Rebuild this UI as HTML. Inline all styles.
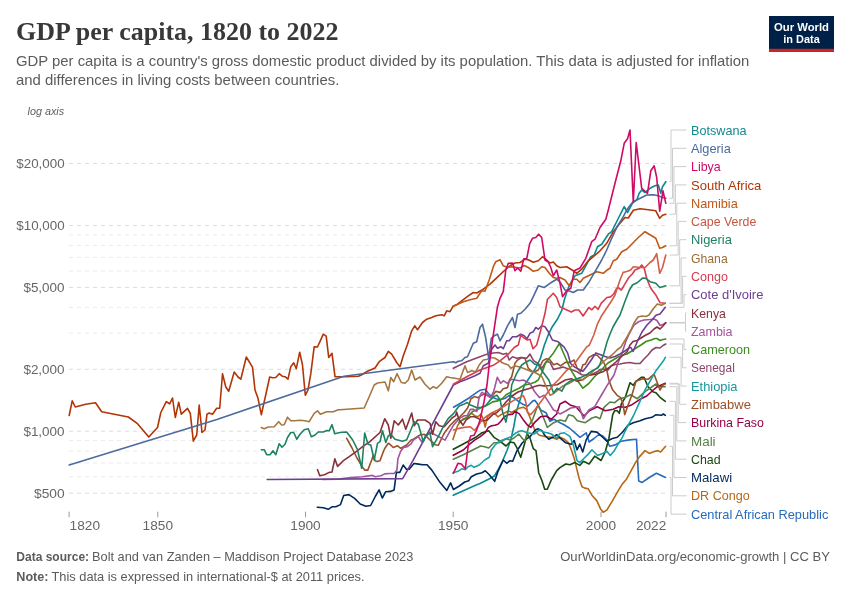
<!DOCTYPE html><html><head><meta charset="utf-8"><title>GDP per capita, 1820 to 2022</title><style>html,body{margin:0;padding:0;background:#fff;}svg{display:block;}text{font-family:"Liberation Sans",Arial,sans-serif;}</style></head><body>
<svg width="850" height="600" viewBox="0 0 850 600">
<rect width="850" height="600" fill="#fff"/>
<text x="16" y="39.7" font-family="Liberation Serif, serif" style="font-family:'Liberation Serif',serif" font-size="24.5" font-weight="bold" fill="#383838" textLength="322.5" lengthAdjust="spacingAndGlyphs">GDP per capita, 1820 to 2022</text>
<text x="16" y="66.3" font-size="14.6" fill="#5b5b5b" textLength="733.3" lengthAdjust="spacingAndGlyphs">GDP per capita is a country's gross domestic product divided by its population. This data is adjusted for inflation</text>
<text x="16" y="84.5" font-size="14.6" fill="#5b5b5b" textLength="323.3" lengthAdjust="spacingAndGlyphs">and differences in living costs between countries.</text>
<rect x="769" y="16" width="65" height="36" fill="#002147"/><rect x="769" y="48.8" width="65" height="3.2" fill="#ce261e"/>
<text x="801.5" y="30.6" font-size="11.6" font-weight="bold" fill="#fff" text-anchor="middle" textLength="55" lengthAdjust="spacingAndGlyphs">Our World</text>
<text x="801.5" y="42.8" font-size="11.6" font-weight="bold" fill="#fff" text-anchor="middle" textLength="36.5" lengthAdjust="spacingAndGlyphs">in Data</text>
<text x="27.5" y="114.7" font-size="11.4" font-style="italic" fill="#5e5e5e" textLength="36.6" lengthAdjust="spacingAndGlyphs">log axis</text>
<line x1="69" y1="493.12" x2="666" y2="493.12" stroke="#dcdcdc" stroke-width="1" stroke-dasharray="4 4"/>
<line x1="69" y1="476.83" x2="666" y2="476.83" stroke="#ebebeb" stroke-width="1" stroke-dasharray="4 4"/>
<line x1="69" y1="463.06" x2="666" y2="463.06" stroke="#ebebeb" stroke-width="1" stroke-dasharray="4 4"/>
<line x1="69" y1="451.13" x2="666" y2="451.13" stroke="#ebebeb" stroke-width="1" stroke-dasharray="4 4"/>
<line x1="69" y1="440.61" x2="666" y2="440.61" stroke="#ebebeb" stroke-width="1" stroke-dasharray="4 4"/>
<line x1="69" y1="431.20" x2="666" y2="431.20" stroke="#dcdcdc" stroke-width="1" stroke-dasharray="4 4"/>
<line x1="69" y1="369.28" x2="666" y2="369.28" stroke="#dcdcdc" stroke-width="1" stroke-dasharray="4 4"/>
<line x1="69" y1="333.06" x2="666" y2="333.06" stroke="#ebebeb" stroke-width="1" stroke-dasharray="4 4"/>
<line x1="69" y1="307.36" x2="666" y2="307.36" stroke="#ebebeb" stroke-width="1" stroke-dasharray="4 4"/>
<line x1="69" y1="287.42" x2="666" y2="287.42" stroke="#dcdcdc" stroke-width="1" stroke-dasharray="4 4"/>
<line x1="69" y1="271.13" x2="666" y2="271.13" stroke="#ebebeb" stroke-width="1" stroke-dasharray="4 4"/>
<line x1="69" y1="257.36" x2="666" y2="257.36" stroke="#ebebeb" stroke-width="1" stroke-dasharray="4 4"/>
<line x1="69" y1="245.43" x2="666" y2="245.43" stroke="#ebebeb" stroke-width="1" stroke-dasharray="4 4"/>
<line x1="69" y1="234.91" x2="666" y2="234.91" stroke="#ebebeb" stroke-width="1" stroke-dasharray="4 4"/>
<line x1="69" y1="225.50" x2="666" y2="225.50" stroke="#dcdcdc" stroke-width="1" stroke-dasharray="4 4"/>
<line x1="69" y1="163.58" x2="666" y2="163.58" stroke="#dcdcdc" stroke-width="1" stroke-dasharray="4 4"/>
<text x="64.6" y="168.1" font-size="12.6" fill="#666" text-anchor="end" textLength="48.3" lengthAdjust="spacingAndGlyphs">$20,000</text>
<text x="64.6" y="230.0" font-size="12.6" fill="#666" text-anchor="end" textLength="48.3" lengthAdjust="spacingAndGlyphs">$10,000</text>
<text x="64.6" y="291.9" font-size="12.6" fill="#666" text-anchor="end" textLength="41.2" lengthAdjust="spacingAndGlyphs">$5,000</text>
<text x="64.6" y="373.8" font-size="12.6" fill="#666" text-anchor="end" textLength="41.2" lengthAdjust="spacingAndGlyphs">$2,000</text>
<text x="64.6" y="435.7" font-size="12.6" fill="#666" text-anchor="end" textLength="41.2" lengthAdjust="spacingAndGlyphs">$1,000</text>
<text x="64.6" y="497.6" font-size="12.6" fill="#666" text-anchor="end" textLength="30.6" lengthAdjust="spacingAndGlyphs">$500</text>
<line x1="69.1" y1="511.7" x2="69.1" y2="517.2" stroke="#999" stroke-width="1"/>
<text x="69.6" y="530.3" font-size="12.6" fill="#666" text-anchor="start" textLength="30.4" lengthAdjust="spacingAndGlyphs">1820</text>
<line x1="157.8" y1="511.7" x2="157.8" y2="517.2" stroke="#999" stroke-width="1"/>
<text x="157.8" y="530.3" font-size="12.6" fill="#666" text-anchor="middle" textLength="30.4" lengthAdjust="spacingAndGlyphs">1850</text>
<line x1="305.5" y1="511.7" x2="305.5" y2="517.2" stroke="#999" stroke-width="1"/>
<text x="305.5" y="530.3" font-size="12.6" fill="#666" text-anchor="middle" textLength="30.4" lengthAdjust="spacingAndGlyphs">1900</text>
<line x1="453.2" y1="511.7" x2="453.2" y2="517.2" stroke="#999" stroke-width="1"/>
<text x="453.2" y="530.3" font-size="12.6" fill="#666" text-anchor="middle" textLength="30.4" lengthAdjust="spacingAndGlyphs">1950</text>
<line x1="601.0" y1="511.7" x2="601.0" y2="517.2" stroke="#999" stroke-width="1"/>
<text x="601.0" y="530.3" font-size="12.6" fill="#666" text-anchor="middle" textLength="30.4" lengthAdjust="spacingAndGlyphs">2000</text>
<line x1="666.0" y1="511.7" x2="666.0" y2="517.2" stroke="#999" stroke-width="1"/>
<text x="666.3" y="530.3" font-size="12.6" fill="#666" text-anchor="end" textLength="30.4" lengthAdjust="spacingAndGlyphs">2022</text>
<polyline points="453.3,495.3 463.3,490.7 476.7,484.7 480.0,483.5 489.0,479.0 494.3,476.0 498.0,470.0 502.5,461.0 507.0,450.5 510.8,440.0 513.8,426.5 516.8,410.0 520.3,399.0 524.3,385.3 529.7,377.3 535.0,369.3 540.3,358.7 544.3,345.3 548.3,334.7 552.3,326.7 557.7,318.7 561.7,310.7 564.3,300.0 567.5,290.0 570.0,284.2 575.0,275.8 581.7,273.3 590.8,256.7 594.2,255.0 597.5,246.7 601.7,244.2 608.3,234.2 611.7,231.7 617.5,220.0 624.2,206.7 627.5,212.5 633.3,201.7 636.7,200.0 639.2,193.3 641.7,190.0 645.0,192.5 650.0,188.3 655.0,185.8 658.3,185.0 660.8,193.3 662.5,186.7 665.8,181.7" fill="none" stroke="#0A8A8F" stroke-width="1.6" stroke-linejoin="round" stroke-linecap="round"/>
<polyline points="69.2,415.5 72.2,400.8 75.3,407.0 85.8,404.3 95.5,402.8 101.7,411.7 128.3,417.0 137.5,423.7 148.8,437.0 157.5,427.5 160.8,412.5 166.3,401.7 169.7,403.8 172.5,398.0 175.3,417.5 178.7,402.2 181.3,414.2 187.5,408.3 190.3,413.3 193.3,441.2 196.7,435.0 199.2,405.0 202.0,432.5 205.0,430.0 207.0,414.2 209.2,413.0 212.5,414.2 216.7,408.3 219.7,408.3 222.5,373.7 225.8,387.0 228.7,391.3 234.2,372.0 238.0,377.0 240.8,379.2 246.3,357.0 252.5,367.2 255.0,390.0 258.0,398.3 261.3,414.7 265.0,398.3 269.7,377.0 272.5,377.8 275.8,377.5 279.2,373.7 282.5,376.3 285.0,376.7 288.0,379.2 290.8,366.7 293.7,362.8 296.3,368.7 299.7,352.2 302.5,365.0 305.3,395.3 308.0,390.0 310.8,373.7 314.2,346.7 317.5,347.0 323.3,334.2 326.2,336.2 328.7,357.5 332.0,353.3 335.0,376.7 340.0,376.7 346.7,376.7 358.3,376.3 360.8,375.3 367.5,371.3 375.0,368.0 379.2,361.7 385.0,357.5 388.3,351.3 391.7,354.2 396.7,362.5 400.0,366.7 403.3,355.8 407.5,344.2 411.7,330.8 414.7,325.8 417.5,329.7 422.5,322.5 426.7,319.2 431.7,317.5 435.8,315.8 441.7,314.7 444.2,315.8 446.7,310.8 450.0,311.7 453.0,306.3 457.5,304.2 463.3,299.7 468.3,295.8 473.3,292.5 476.7,293.0 483.3,289.2 490.0,284.2 498.3,276.3 505.0,270.0 510.0,265.8 515.0,263.0 520.0,262.5 525.0,259.2 528.3,259.7 533.3,262.2 538.3,260.8 542.5,256.7 546.7,260.0 550.0,263.0 553.3,262.0 556.7,265.8 560.0,267.5 566.7,266.7 573.3,270.8 576.7,273.3 581.7,269.2 588.3,260.8 593.3,256.7 600.0,250.8 606.7,243.3 613.3,231.7 620.0,223.3 625.0,217.5 628.3,218.0 633.3,210.3 640.0,208.7 648.3,209.7 655.8,210.8 659.7,218.3 662.5,215.3 665.8,214.2" fill="none" stroke="#B13507" stroke-width="1.6" stroke-linejoin="round" stroke-linecap="round"/>
<polyline points="453.3,306.3 463.3,301.7 470.0,299.7 476.7,298.3 481.7,290.8 485.0,291.3 489.2,280.0 493.3,266.7 495.8,261.7 500.0,259.7 503.3,265.8 507.5,267.5 511.7,266.7 516.7,267.5 520.0,268.0 524.2,265.5 528.3,267.5 533.3,271.3 538.3,270.0 541.7,266.7 545.0,267.5 549.2,273.3 553.3,277.5 556.7,278.3 560.0,277.5 565.0,280.0 569.2,285.8 573.3,279.2 576.7,279.2 580.0,282.5 583.3,278.3 590.0,275.0 596.7,271.7 603.3,273.3 607.5,269.7 610.0,268.3 613.3,260.8 616.7,259.2 621.7,251.7 626.7,249.2 631.7,244.2 638.3,237.5 645.0,231.7 651.7,235.8 655.8,238.3 659.7,248.3 662.5,247.5 665.8,245.8" fill="none" stroke="#C05917" stroke-width="1.6" stroke-linejoin="round" stroke-linecap="round"/>
<polyline points="453.5,407.2 460.9,403.0 469.4,397.7 476.8,392.4 479.9,390.3 485.2,389.2 488.4,393.5 491.6,396.6 495.8,398.8 500.1,399.8 505.4,398.2 509.6,395.1 513.8,397.7 519.1,401.9 523.4,404.6 527.6,406.2 532.9,400.9 535.0,400.4 536.7,402.7 540.7,410.0 546.0,412.7 550.0,421.3 554.0,419.3 560.0,422.7 564.0,424.7 569.3,428.0 574.7,432.7 580.0,437.3 586.2,432.8 589.1,442.0 594.0,438.5 598.3,435.0 602.5,435.7 606.8,439.9 609.6,446.3 615.3,444.9 621.0,441.3 629.5,439.9 636.5,439.2 638.7,481.0 642.2,482.4 649.3,477.5 656.4,473.2 665.6,477.5" fill="none" stroke="#286BBB" stroke-width="1.6" stroke-linejoin="round" stroke-linecap="round"/>
<polyline points="452.9,439.5 457.7,425.2 463.0,418.9 466.2,417.8 471.5,413.1 474.6,415.7 477.8,416.8 481.0,414.1 483.5,420.0 485.2,427.0 487.4,416.8 491.6,413.1 494.8,413.6 497.9,416.8 501.1,414.6 505.4,412.5 508.5,410.9 511.7,412.5 514.9,410.4 519.1,408.3 523.4,407.2 526.5,409.4 529.7,416.8 532.9,425.2 535.3,431.3 539.3,435.3 546.0,436.7 551.3,437.3 556.7,439.3 560.0,437.1 564.3,439.2 568.5,442.8 571.3,449.8 574.2,458.3 576.3,466.9 579.1,478.2 582.0,486.7 584.8,488.1 588.3,488.8 591.9,495.2 596.9,500.9 600.4,508.7 603.2,512.2 606.8,510.1 612.4,500.9 618.1,490.9 622.4,483.9 626.6,478.9 630.9,471.1 635.1,463.3 639.4,456.9 645.0,450.6 649.3,453.4 655.0,451.3 657.8,450.6 660.6,452.0 665.6,446.3" fill="none" stroke="#B66716" stroke-width="1.6" stroke-linejoin="round" stroke-linecap="round"/>
<polyline points="317.3,507.2 323.5,507.8 328.2,509.3 332.0,506.8 335.8,506.8 340.5,504.6 343.7,495.5 348.9,494.6 354.6,498.4 360.2,504.0 365.9,506.3 370.6,505.5 375.3,496.5 379.1,489.9 382.3,498.0 385.6,491.8 390.4,491.4 394.1,489.9 396.4,472.4 399.8,472.4 403.2,465.0 406.4,469.2 409.2,469.2 413.9,463.5 418.6,464.1 422.4,464.8 427.1,464.8 431.8,470.1 439.3,481.4 446.8,490.4 450.6,482.9 453.4,489.5 459.3,486.0 464.7,482.0 468.7,480.7 471.3,476.7 476.7,474.0 482.0,472.7 485.3,470.7 489.3,474.7 494.7,481.3 498.0,471.3 503.3,460.0 506.7,463.3 510.0,460.7 512.7,461.3 516.7,451.3 522.0,443.3 526.0,439.3 530.0,436.7 535.3,430.0 538.0,428.7 542.0,430.7 544.7,435.3 548.7,439.3 552.7,437.3 556.7,434.7 560.0,437.8 565.7,442.8 571.3,444.2 574.2,440.6 577.0,449.8 579.8,444.2 582.7,452.0 586.2,439.9 591.2,431.4 596.9,432.1 601.1,435.7 606.8,441.3 612.4,438.5 617.3,437.3 622.7,432.0 628.0,425.3 633.3,422.7 640.0,420.7 645.3,418.7 652.0,417.3 656.0,414.7 661.3,415.3 663.3,414.0 665.3,415.3" fill="none" stroke="#00295B" stroke-width="1.6" stroke-linejoin="round" stroke-linecap="round"/>
<polyline points="453.3,449.3 463.3,444.0 476.7,436.7 482.0,432.7 488.7,430.7 494.0,437.3 499.3,440.7 506.0,446.0 510.0,442.0 514.0,442.7 516.7,447.3 520.7,457.3 524.7,443.3 527.3,434.0 530.0,438.0 533.3,448.7 536.0,450.7 538.7,472.7 542.0,480.7 544.7,489.3 547.3,489.3 551.3,480.0 556.7,470.7 560.0,467.6 565.7,464.0 569.9,464.7 574.9,462.6 579.8,465.4 583.4,461.2 589.1,464.0 594.7,456.2 601.1,460.5 605.4,451.3 608.9,438.5 612.7,414.7 614.7,410.7 617.3,410.7 619.3,413.3 621.3,404.0 625.3,397.3 630.0,382.7 633.3,385.3 636.0,381.3 641.3,377.3 644.0,377.3 648.0,386.7 653.3,392.0 656.0,392.7 660.0,397.3 665.3,401.3" fill="none" stroke="#18470F" stroke-width="1.6" stroke-linejoin="round" stroke-linecap="round"/>
<polyline points="453.3,459.3 463.3,454.7 472.7,450.0 480.7,446.0 484.7,446.7 488.7,448.0 494.0,442.7 499.3,442.7 506.0,438.7 510.0,440.0 514.0,438.0 518.7,434.0 522.0,438.0 524.7,441.3 526.7,434.7 528.7,426.0 532.7,419.3 538.0,404.7 542.0,414.0 547.3,427.3 552.7,423.3 560.0,420.0 565.3,421.3 568.7,414.7 573.3,416.0 577.3,420.7 585.3,422.7 592.0,418.0 596.0,416.7 600.0,418.7 604.0,407.3 610.0,402.0 614.7,402.7 618.7,399.3 625.3,397.3 630.7,394.7 637.3,398.7 645.3,391.3 656.0,384.0 660.0,386.7 665.3,386.7" fill="none" stroke="#578145" stroke-width="1.6" stroke-linejoin="round" stroke-linecap="round"/>
<polyline points="453.3,455.3 463.3,450.0 469.4,444.3 474.6,440.1 479.9,436.9 485.2,432.6 488.4,427.4 491.6,425.8 494.8,425.2 497.9,424.2 501.1,421.0 504.3,416.8 508.5,414.6 512.8,414.1 514.9,411.5 519.1,413.6 523.4,419.9 527.6,425.2 530.8,427.4 535.0,422.1 540.7,416.7 546.0,416.0 551.3,419.3 556.7,414.0 560.0,404.0 565.3,401.3 570.7,405.3 576.0,406.7 584.0,416.0 589.3,410.7 597.3,406.7 605.3,410.7 613.3,409.3 618.7,406.7 625.3,407.3 632.0,404.7 640.0,399.3 646.7,396.0 653.3,390.0 657.3,386.7 665.3,383.3" fill="none" stroke="#970046" stroke-width="1.6" stroke-linejoin="round" stroke-linecap="round"/>
<polyline points="346.7,438.3 352.0,448.0 357.0,458.0 363.3,468.3 364.9,470.1 367.8,470.1 371.7,460.0 373.4,455.0 375.0,460.8 377.2,461.6 380.0,460.7 383.3,451.7 384.7,448.5 388.3,443.3 389.4,443.8 393.3,447.5 397.5,445.8 400.8,448.3 406.7,445.0 411.1,440.0 413.3,439.2 420.0,435.0 424.2,434.2 430.0,440.0 435.0,444.7 438.3,445.3 443.3,435.0 445.0,432.1 450.3,425.2 455.6,419.9 459.8,416.8 464.1,412.5 467.8,407.8 470.9,398.8 474.6,396.6 477.8,397.7 481.0,395.6 485.2,393.5 489.5,396.6 492.6,395.6 495.8,391.4 500.1,392.4 503.2,388.7 507.5,387.6 509.5,380.0 511.7,376.7 515.0,363.3 517.5,360.0 521.7,357.5 525.0,358.3 528.3,368.3 532.5,371.7 534.7,371.8 538.2,370.0 542.9,360.6 546.5,358.8 550.0,360.0 553.5,364.7 557.1,363.5 560.6,365.9 565.3,362.4 570.0,362.4 574.1,360.0 577.1,368.2 580.6,371.8 582.9,364.7 585.3,364.1 588.8,357.6 593.5,354.7 597.1,355.3 600.6,358.8 603.0,361.0 605.0,365.0 607.0,371.0 608.8,380.0 612.4,389.4 617.1,395.3 620.6,397.6 622.9,403.5 624.7,414.7 628.0,405.3 632.0,394.7 636.0,381.3 642.7,378.7 648.0,379.3 654.0,374.0 657.3,382.7 660.0,390.0 662.7,385.3 665.3,384.0" fill="none" stroke="#9A5129" stroke-width="1.6" stroke-linejoin="round" stroke-linecap="round"/>
<polyline points="453.3,472.7 458.0,471.3 462.0,468.7 465.3,469.7 468.0,466.7 471.3,465.3 474.0,467.3 479.3,465.0 484.7,460.0 489.3,457.3 491.3,450.0 495.3,444.7 499.3,441.3 506.0,438.7 511.3,436.7 515.3,433.3 519.3,431.3 522.0,430.7 527.3,432.7 534.0,434.0 539.3,430.0 543.3,432.0 547.3,432.7 551.3,434.0 556.7,438.0 560.0,433.5 564.3,432.8 569.9,436.4 573.5,445.6 577.0,460.5 579.8,462.6 584.1,458.3 588.3,454.1 591.9,449.8 597.6,455.5 602.5,453.4 606.8,451.3 610.3,455.5 613.9,451.3 618.1,444.2 622.4,437.1 626.7,428.0 633.3,416.0 640.0,401.3 645.3,389.3 650.7,380.0 656.0,370.7 664.0,360.0 665.3,357.3" fill="none" stroke="#1AA0A5" stroke-width="1.6" stroke-linejoin="round" stroke-linecap="round"/>
<polyline points="453.3,368.3 466.7,361.7 480.0,356.7 486.7,354.2 493.3,353.0 498.3,352.5 503.3,354.2 506.7,353.3 509.2,360.0 512.5,356.7 516.7,358.3 520.8,357.5 526.7,358.3 530.0,354.1 533.5,360.6 538.2,363.5 541.8,368.2 546.5,361.2 550.0,362.4 553.5,369.4 558.2,368.2 562.9,367.1 566.5,368.2 571.2,369.4 577.1,371.8 581.8,374.7 586.5,375.3 592.4,374.1 598.2,371.2 600.0,369.5 604.0,369.0 608.0,370.0 611.0,366.0 615.0,364.5 620.0,364.0 625.0,363.0 630.0,362.5 635.0,363.5 640.0,363.5 644.0,359.0 648.0,355.0 652.0,350.0 656.0,347.5 660.0,348.0 663.0,345.5 665.8,344.0" fill="none" stroke="#8C4569" stroke-width="1.6" stroke-linejoin="round" stroke-linecap="round"/>
<polyline points="458.8,422.1 463.0,419.9 467.2,417.8 472.5,411.5 477.8,409.4 482.1,407.2 487.4,405.1 492.6,401.9 497.9,400.9 502.2,398.8 506.4,394.5 510.6,392.4 514.9,390.3 519.1,388.2 524.4,385.0 530.0,384.0 535.3,382.0 538.2,380.0 541.8,372.9 545.3,363.5 548.8,358.8 553.5,352.9 559.4,343.5 562.9,351.8 566.5,360.0 571.2,370.6 577.1,380.0 582.9,388.2 588.8,383.5 594.7,376.5 600.0,372.0 604.0,367.0 608.0,363.0 613.0,360.0 618.0,357.0 623.0,355.0 627.0,354.0 631.0,351.5 636.0,348.0 641.0,345.0 646.0,341.5 651.0,340.0 655.0,338.5 657.0,338.5 660.0,340.5 663.0,339.5 665.8,339.0" fill="none" stroke="#3B8E1D" stroke-width="1.6" stroke-linejoin="round" stroke-linecap="round"/>
<polyline points="322.6,479.5 337.6,479.2 350.8,477.6 362.1,476.7 372.5,475.4 375.3,476.7 380.9,475.8 384.7,473.9 389.4,473.5 394.1,473.5 396.9,470.1 397.9,458.8 400.7,451.3 403.5,447.5 407.3,446.6 411.1,443.8 413.3,440.0 418.3,436.7 421.7,441.7 430.0,432.0 445.0,440.1 449.2,432.6 453.5,425.2 458.8,418.9 464.1,415.7 467.2,415.7 470.4,409.4 473.6,409.4 476.8,411.5 478.9,398.8 481.0,393.5 482.1,392.4 487.4,395.6 490.5,397.7 493.7,391.4 497.3,377.3 500.7,383.3 503.3,380.7 507.3,383.3 511.3,379.3 519.3,380.7 523.3,380.0 530.0,383.5 534.7,391.8 539.4,397.6 544.1,395.3 548.8,402.4 553.5,410.0 556.7,411.3 560.0,414.0 565.3,411.3 570.7,408.0 579.3,406.7 583.3,418.7 588.8,410.0 594.7,406.7 600.6,396.5 607.6,384.7 614.0,375.0 618.0,363.0 622.0,353.0 626.0,341.0 630.0,332.0 634.0,325.0 639.0,321.5 644.0,320.0 650.0,319.5 654.0,319.0 657.0,320.5 660.0,325.5 663.0,324.5 665.8,323.0" fill="none" stroke="#A2559C" stroke-width="1.6" stroke-linejoin="round" stroke-linecap="round"/>
<polyline points="317.5,469.7 319.8,475.8 324.5,474.8 329.2,472.4 332.0,472.0 334.8,458.8 337.6,466.4 343.3,460.7 348.9,456.9 356.5,451.3 364.0,445.6 369.6,441.9 380.0,432.5 384.7,418.7 388.3,425.0 390.8,438.3 394.2,420.8 398.3,425.0 402.5,419.2 405.8,429.2 411.7,413.0 414.2,425.8 417.5,420.0 425.0,420.0 430.0,423.3 432.5,434.2 435.8,421.7 439.2,425.8 444.2,426.7 452.0,418.0 455.6,415.7 456.6,412.0 458.8,418.9 463.0,425.2 466.2,419.9 470.4,416.8 474.6,416.8 478.9,418.9 483.1,421.0 487.4,419.9 492.6,414.6 496.9,412.5 500.1,409.4 506.0,402.0 512.0,396.0 518.0,392.0 524.0,390.0 530.0,388.2 534.7,386.5 539.4,385.3 544.1,385.9 550.0,385.5 557.1,384.7 565.3,380.0 571.2,378.8 577.1,381.2 582.9,379.4 588.8,375.3 595.9,374.1 602.9,371.8 610.0,367.0 616.0,362.0 622.0,356.0 627.0,352.0 630.0,345.0 633.0,341.5 637.0,340.5 641.0,338.0 645.0,335.5 650.0,333.0 654.0,329.0 657.0,327.0 660.0,329.0 663.0,326.0 665.8,322.5" fill="none" stroke="#883039" stroke-width="1.6" stroke-linejoin="round" stroke-linecap="round"/>
<polyline points="267.2,479.5 402.6,478.6 405.4,473.9 412.9,460.7 422.4,442.8 453.3,385.0 460.0,381.7 466.7,379.2 475.0,375.8 480.0,373.3 483.3,365.8 488.3,363.3 491.7,349.2 495.0,345.0 497.5,348.3 500.8,346.7 503.3,348.7 506.7,340.8 509.2,340.8 512.5,336.7 516.7,336.7 520.8,334.2 524.2,335.8 527.0,338.7 530.0,333.3 533.3,331.7 535.8,327.5 538.3,329.2 541.7,325.8 545.0,326.7 548.3,331.7 552.4,340.0 558.2,341.8 564.1,347.1 567.6,352.9 570.6,363.5 574.7,367.1 579.4,369.4 582.9,371.2 585.3,368.2 591.2,360.0 595.9,352.9 600.0,354.5 605.0,356.5 610.0,358.0 615.0,356.5 620.0,354.0 625.0,351.0 629.0,348.0 631.0,347.5 633.0,351.5 635.0,347.0 638.0,340.0 642.0,332.0 647.0,325.0 652.0,320.0 656.0,315.3 660.0,314.0 665.3,307.3" fill="none" stroke="#6D3E91" stroke-width="1.6" stroke-linejoin="round" stroke-linecap="round"/>
<polyline points="453.3,384.2 466.7,376.7 480.0,370.0 493.3,365.3 500.0,360.8 508.3,354.2 514.2,347.5 518.3,345.0 520.8,335.0 524.2,338.3 527.5,340.0 530.0,339.2 533.0,348.7 536.7,345.0 540.8,330.0 545.0,313.3 547.5,299.2 550.0,296.7 553.3,293.3 556.7,297.5 560.0,306.7 565.3,309.3 571.3,312.0 575.0,310.0 578.8,310.0 583.1,316.0 588.8,307.5 591.9,309.8 595.0,306.3 598.1,309.4 601.3,303.1 606.9,297.5 610.6,296.9 613.8,293.8 616.3,288.8 618.1,287.5 621.3,290.0 625.0,283.8 628.8,277.5 632.5,273.8 635.0,270.0 639.2,268.3 641.7,265.0 644.2,268.3 646.7,278.3 650.0,286.7 652.0,290.0 656.0,295.3 660.0,302.7 665.3,303.3" fill="none" stroke="#D73C50" stroke-width="1.6" stroke-linejoin="round" stroke-linecap="round"/>
<polyline points="261.3,427.5 264.2,428.7 268.3,427.0 274.2,426.7 278.7,421.7 281.7,425.0 284.2,424.7 287.5,417.2 290.8,420.8 295.0,420.8 300.0,420.3 305.0,420.8 309.2,421.7 314.2,413.3 317.5,410.8 320.3,414.2 326.7,411.7 333.3,411.7 338.3,409.7 340.0,409.7 364.2,408.0 369.2,396.7 374.2,385.0 377.5,383.0 385.0,382.0 388.3,390.8 390.8,377.5 393.7,381.7 397.0,373.7 401.3,382.5 405.0,383.3 408.3,380.0 411.7,370.0 415.0,380.0 420.0,377.0 425.0,384.2 430.0,389.2 433.3,386.7 436.7,388.3 441.7,383.3 446.7,376.7 450.0,377.5 455.0,378.3 460.0,379.2 465.0,365.8 467.5,372.5 471.7,370.8 475.8,371.7 479.2,365.0 483.3,360.0 487.5,359.2 490.8,357.5 495.0,358.3 499.2,360.8 503.3,363.3 508.3,365.0 510.8,368.3 515.0,366.0 520.0,367.0 525.0,369.0 530.0,371.0 536.0,373.0 541.8,376.5 546.5,387.1 550.0,395.3 553.0,394.0 557.1,390.6 562.9,385.9 568.8,383.5 574.7,380.0 579.4,378.8 582.9,380.0 590.0,374.0 597.0,368.0 603.0,362.0 608.0,358.0 612.0,355.0 617.0,350.0 621.0,347.0 624.0,342.0 627.0,337.0 631.0,330.0 634.0,323.0 638.0,317.0 642.0,316.0 646.0,316.5 649.0,315.0 653.3,308.7 657.3,304.0 661.3,305.3 665.3,303.3" fill="none" stroke="#A57740" stroke-width="1.6" stroke-linejoin="round" stroke-linecap="round"/>
<polyline points="261.3,449.7 264.2,449.7 266.7,454.7 270.0,454.7 273.0,450.8 275.8,454.7 279.2,443.7 282.0,447.2 285.0,444.2 287.5,437.5 290.8,432.5 293.7,432.5 296.7,439.2 300.0,434.2 304.2,429.7 308.3,428.7 311.3,436.7 315.0,435.0 318.3,432.0 323.3,432.0 326.7,430.5 329.2,430.8 332.0,424.7 334.7,433.7 340.0,432.5 346.7,432.0 352.7,440.0 357.4,449.4 361.7,468.3 364.7,433.0 368.0,444.2 370.8,445.0 374.2,460.0 377.5,443.3 380.0,441.7 382.5,430.8 385.8,442.5 388.3,435.8 390.8,434.2 395.0,439.2 402.5,441.3 406.7,439.7 410.8,430.0 414.2,421.7 418.3,424.2 423.3,441.7 425.8,435.0 430.0,433.0 432.5,446.7 438.3,436.7 443.3,426.7 448.3,418.3 453.5,413.6 458.8,406.2 463.0,404.6 467.2,402.5 470.4,405.1 473.6,406.2 476.8,407.8 481.0,407.2 485.2,406.2 489.5,400.9 493.7,396.6 496.9,395.1 500.1,399.8 502.7,412.5 505.9,422.1 508.5,409.4 510.6,395.6 511.7,385.0 516.7,373.3 521.7,365.0 526.7,361.7 530.0,360.0 534.7,364.1 538.2,364.7 541.8,370.6 545.3,375.3 548.8,380.0 553.5,392.9 557.1,388.2 561.8,391.2 565.3,384.7 570.0,381.2 574.7,379.4 580.6,377.6 586.5,374.7 592.4,370.6 598.2,367.6 600.0,364.0 604.0,353.0 607.0,342.0 610.0,334.0 613.0,327.0 617.0,320.0 620.0,315.0 625.0,301.3 629.4,290.0 632.5,285.0 637.5,282.5 642.5,278.1 645.8,278.3 650.0,281.7 655.8,283.3 659.7,287.5 665.8,285.8" fill="none" stroke="#1E8262" stroke-width="1.6" stroke-linejoin="round" stroke-linecap="round"/>
<polyline points="453.5,430.0 458.8,428.4 464.1,427.4 470.4,426.8 474.6,430.5 478.0,426.0 482.1,419.9 487.4,415.7 492.6,412.5 497.9,409.9 503.2,406.7 508.5,403.5 513.8,400.4 519.1,397.7 523.4,395.6 525.5,400.9 527.6,412.5 530.8,414.6 534.7,410.0 553.5,384.7 559.4,378.8 566.5,370.6 574.7,363.5 580.6,355.3 586.5,347.1 589.4,345.0 593.8,335.0 597.5,323.8 601.3,316.3 606.3,308.8 611.3,301.3 615.0,295.0 617.5,287.5 620.0,280.0 623.1,272.5 627.5,271.3 630.6,270.0 633.3,266.7 640.0,267.5 645.0,267.5 650.0,262.5 653.3,260.0 656.7,253.7 659.7,273.3 662.5,267.5 665.8,255.0" fill="none" stroke="#D35D45" stroke-width="1.6" stroke-linejoin="round" stroke-linecap="round"/>
<polyline points="69.2,465.0 216.9,419.5 344.0,376.3 453.3,361.7 455.8,362.8 458.3,361.3 461.7,360.8 465.0,357.5 467.5,356.7 473.3,343.3 476.7,341.7 480.0,327.5 482.5,324.2 485.8,338.3 488.7,358.3 491.3,338.3 494.2,335.8 497.5,334.2 500.0,340.8 503.3,335.0 507.5,325.8 512.5,317.5 515.0,327.5 517.5,314.2 520.8,313.3 525.0,309.2 530.0,303.3 533.3,296.7 538.3,285.8 544.2,287.5 550.0,283.3 556.7,279.2 560.0,282.0 565.0,290.0 570.0,291.3 573.3,292.5 577.5,290.0 583.3,290.0 589.2,281.7 595.0,271.7 601.7,260.0 606.7,250.0 611.7,238.3 616.7,227.5 623.3,216.7 626.7,210.0 631.7,203.3 636.7,200.0 646.7,195.0 653.3,194.7 658.3,195.8 662.5,197.5 665.8,198.3" fill="none" stroke="#4C6A9C" stroke-width="1.6" stroke-linejoin="round" stroke-linecap="round"/>
<polyline points="453.3,473.3 458.0,463.3 461.3,464.0 465.3,468.7 468.7,442.0 470.7,436.0 474.0,435.3 476.7,430.0 480.0,420.0 484.0,402.0 487.0,385.0 489.2,365.0 492.5,340.0 495.0,323.3 497.5,306.7 500.0,298.3 503.3,291.3 505.8,270.0 508.3,263.3 512.5,263.0 515.0,270.8 517.5,268.0 520.8,271.3 523.8,258.7 526.7,258.7 529.7,243.7 532.5,238.3 535.8,237.5 538.7,234.2 541.7,237.5 545.0,260.0 548.3,262.0 550.8,267.5 553.3,275.8 556.7,270.0 560.0,283.3 562.5,296.7 566.7,290.8 570.8,288.3 574.2,270.8 580.0,268.0 585.8,258.3 591.7,241.7 595.0,239.2 600.0,227.5 605.8,219.2 608.3,210.0 610.8,200.0 615.0,183.3 620.8,160.8 624.2,143.3 627.5,138.7 630.0,130.0 633.3,202.5 636.2,142.5 641.7,188.3 647.5,193.3 650.8,170.8 654.2,165.8 656.7,177.5 659.7,211.3 663.0,190.8 665.8,203.3" fill="none" stroke="#CF0A66" stroke-width="1.6" stroke-linejoin="round" stroke-linecap="round"/>
<path d="M669.5,181.7 H671.0 V130.0 H686.5" fill="none" stroke="#ccc" stroke-width="1"/>
<path d="M669.5,198.3 H672.5 V148.3 H686.5" fill="none" stroke="#ccc" stroke-width="1"/>
<path d="M669.5,203.3 H673.9 V166.6 H686.5" fill="none" stroke="#ccc" stroke-width="1"/>
<path d="M669.5,214.2 H675.4 V184.9 H686.5" fill="none" stroke="#ccc" stroke-width="1"/>
<path d="M669.5,245.8 H676.8 V203.2 H686.5" fill="none" stroke="#ccc" stroke-width="1"/>
<path d="M669.5,255.0 H678.2 V221.4 H686.5" fill="none" stroke="#ccc" stroke-width="1"/>
<path d="M669.5,285.8 H679.7 V239.7 H686.5" fill="none" stroke="#ccc" stroke-width="1"/>
<path d="M669.5,303.3 H681.1 V258.0 H686.5" fill="none" stroke="#ccc" stroke-width="1"/>
<path d="M669.5,303.3 H682.6 V276.3 H686.5" fill="none" stroke="#ccc" stroke-width="1"/>
<path d="M669.5,307.3 H684.0 V294.6 H686.5" fill="none" stroke="#ccc" stroke-width="1"/>
<path d="M669.5,322.5 H685.5 V312.9 H686.5" fill="none" stroke="#ccc" stroke-width="1"/>
<path d="M669.5,323.0 H685.5 V331.2 H686.5" fill="none" stroke="#ccc" stroke-width="1"/>
<path d="M669.5,339.0 H684.0 V349.5 H686.5" fill="none" stroke="#ccc" stroke-width="1"/>
<path d="M669.5,344.0 H682.6 V367.8 H686.5" fill="none" stroke="#ccc" stroke-width="1"/>
<path d="M669.5,357.3 H681.1 V386.1 H686.5" fill="none" stroke="#ccc" stroke-width="1"/>
<path d="M669.5,384.0 H679.7 V404.3 H686.5" fill="none" stroke="#ccc" stroke-width="1"/>
<path d="M669.5,383.3 H678.2 V422.6 H686.5" fill="none" stroke="#ccc" stroke-width="1"/>
<path d="M669.5,386.7 H676.8 V440.9 H686.5" fill="none" stroke="#ccc" stroke-width="1"/>
<path d="M669.5,401.3 H675.4 V459.2 H686.5" fill="none" stroke="#ccc" stroke-width="1"/>
<path d="M669.5,415.3 H673.9 V477.5 H686.5" fill="none" stroke="#ccc" stroke-width="1"/>
<path d="M669.5,446.3 H672.5 V495.8 H686.5" fill="none" stroke="#ccc" stroke-width="1"/>
<path d="M669.5,477.5 H671.0 V514.1 H686.5" fill="none" stroke="#ccc" stroke-width="1"/>
<text x="691" y="134.6" font-size="13.4" fill="#12898E" textLength="55.5" lengthAdjust="spacingAndGlyphs">Botswana</text>
<text x="691" y="152.9" font-size="13.4" fill="#4C6A9C" textLength="39.8" lengthAdjust="spacingAndGlyphs">Algeria</text>
<text x="691" y="171.2" font-size="13.4" fill="#CF0A66" textLength="29.7" lengthAdjust="spacingAndGlyphs">Libya</text>
<text x="691" y="189.5" font-size="13.4" fill="#B13507" textLength="70.3" lengthAdjust="spacingAndGlyphs">South Africa</text>
<text x="691" y="207.8" font-size="13.4" fill="#C05917" textLength="46.8" lengthAdjust="spacingAndGlyphs">Namibia</text>
<text x="691" y="226.0" font-size="13.4" fill="#C9543F" textLength="65.4" lengthAdjust="spacingAndGlyphs">Cape Verde</text>
<text x="691" y="244.3" font-size="13.4" fill="#1E8262" textLength="40.9" lengthAdjust="spacingAndGlyphs">Nigeria</text>
<text x="691" y="262.6" font-size="13.4" fill="#9A6C36" textLength="36.7" lengthAdjust="spacingAndGlyphs">Ghana</text>
<text x="691" y="280.9" font-size="13.4" fill="#D73C50" textLength="37.0" lengthAdjust="spacingAndGlyphs">Congo</text>
<text x="691" y="299.2" font-size="13.4" fill="#6D3E91" textLength="72.4" lengthAdjust="spacingAndGlyphs">Cote d&#39;Ivoire</text>
<text x="691" y="317.5" font-size="13.4" fill="#883039" textLength="34.9" lengthAdjust="spacingAndGlyphs">Kenya</text>
<text x="691" y="335.8" font-size="13.4" fill="#A2559C" textLength="41.5" lengthAdjust="spacingAndGlyphs">Zambia</text>
<text x="691" y="354.1" font-size="13.4" fill="#3B8E1D" textLength="59.1" lengthAdjust="spacingAndGlyphs">Cameroon</text>
<text x="691" y="372.4" font-size="13.4" fill="#8C4569" textLength="43.8" lengthAdjust="spacingAndGlyphs">Senegal</text>
<text x="691" y="390.7" font-size="13.4" fill="#17959A" textLength="46.5" lengthAdjust="spacingAndGlyphs">Ethiopia</text>
<text x="691" y="408.9" font-size="13.4" fill="#9A5129" textLength="59.9" lengthAdjust="spacingAndGlyphs">Zimbabwe</text>
<text x="691" y="427.2" font-size="13.4" fill="#970046" textLength="72.9" lengthAdjust="spacingAndGlyphs">Burkina Faso</text>
<text x="691" y="445.5" font-size="13.4" fill="#578145" textLength="24.6" lengthAdjust="spacingAndGlyphs">Mali</text>
<text x="691" y="463.8" font-size="13.4" fill="#18470F" textLength="29.6" lengthAdjust="spacingAndGlyphs">Chad</text>
<text x="691" y="482.1" font-size="13.4" fill="#00295B" textLength="41.1" lengthAdjust="spacingAndGlyphs">Malawi</text>
<text x="691" y="500.4" font-size="13.4" fill="#B66716" textLength="58.7" lengthAdjust="spacingAndGlyphs">DR Congo</text>
<text x="691" y="518.7" font-size="13.4" fill="#286BBB" textLength="137.3" lengthAdjust="spacingAndGlyphs">Central African Republic</text>
<text x="16.3" y="560.9" font-size="13" font-weight="bold" fill="#5b5b5b" textLength="72.8" lengthAdjust="spacingAndGlyphs">Data source:</text>
<text x="92" y="560.9" font-size="13" fill="#5b5b5b" textLength="321.3" lengthAdjust="spacingAndGlyphs">Bolt and van Zanden – Maddison Project Database 2023</text>
<text x="16.3" y="581" font-size="13" font-weight="bold" fill="#5b5b5b" textLength="32.2" lengthAdjust="spacingAndGlyphs">Note:</text>
<text x="51.5" y="581" font-size="13" fill="#5b5b5b" textLength="313" lengthAdjust="spacingAndGlyphs">This data is expressed in international-$ at 2011 prices.</text>
<text x="830" y="560.9" font-size="13" fill="#5b5b5b" text-anchor="end" textLength="269.8" lengthAdjust="spacingAndGlyphs">OurWorldinData.org/economic-growth | CC BY</text>
</svg></body></html>
